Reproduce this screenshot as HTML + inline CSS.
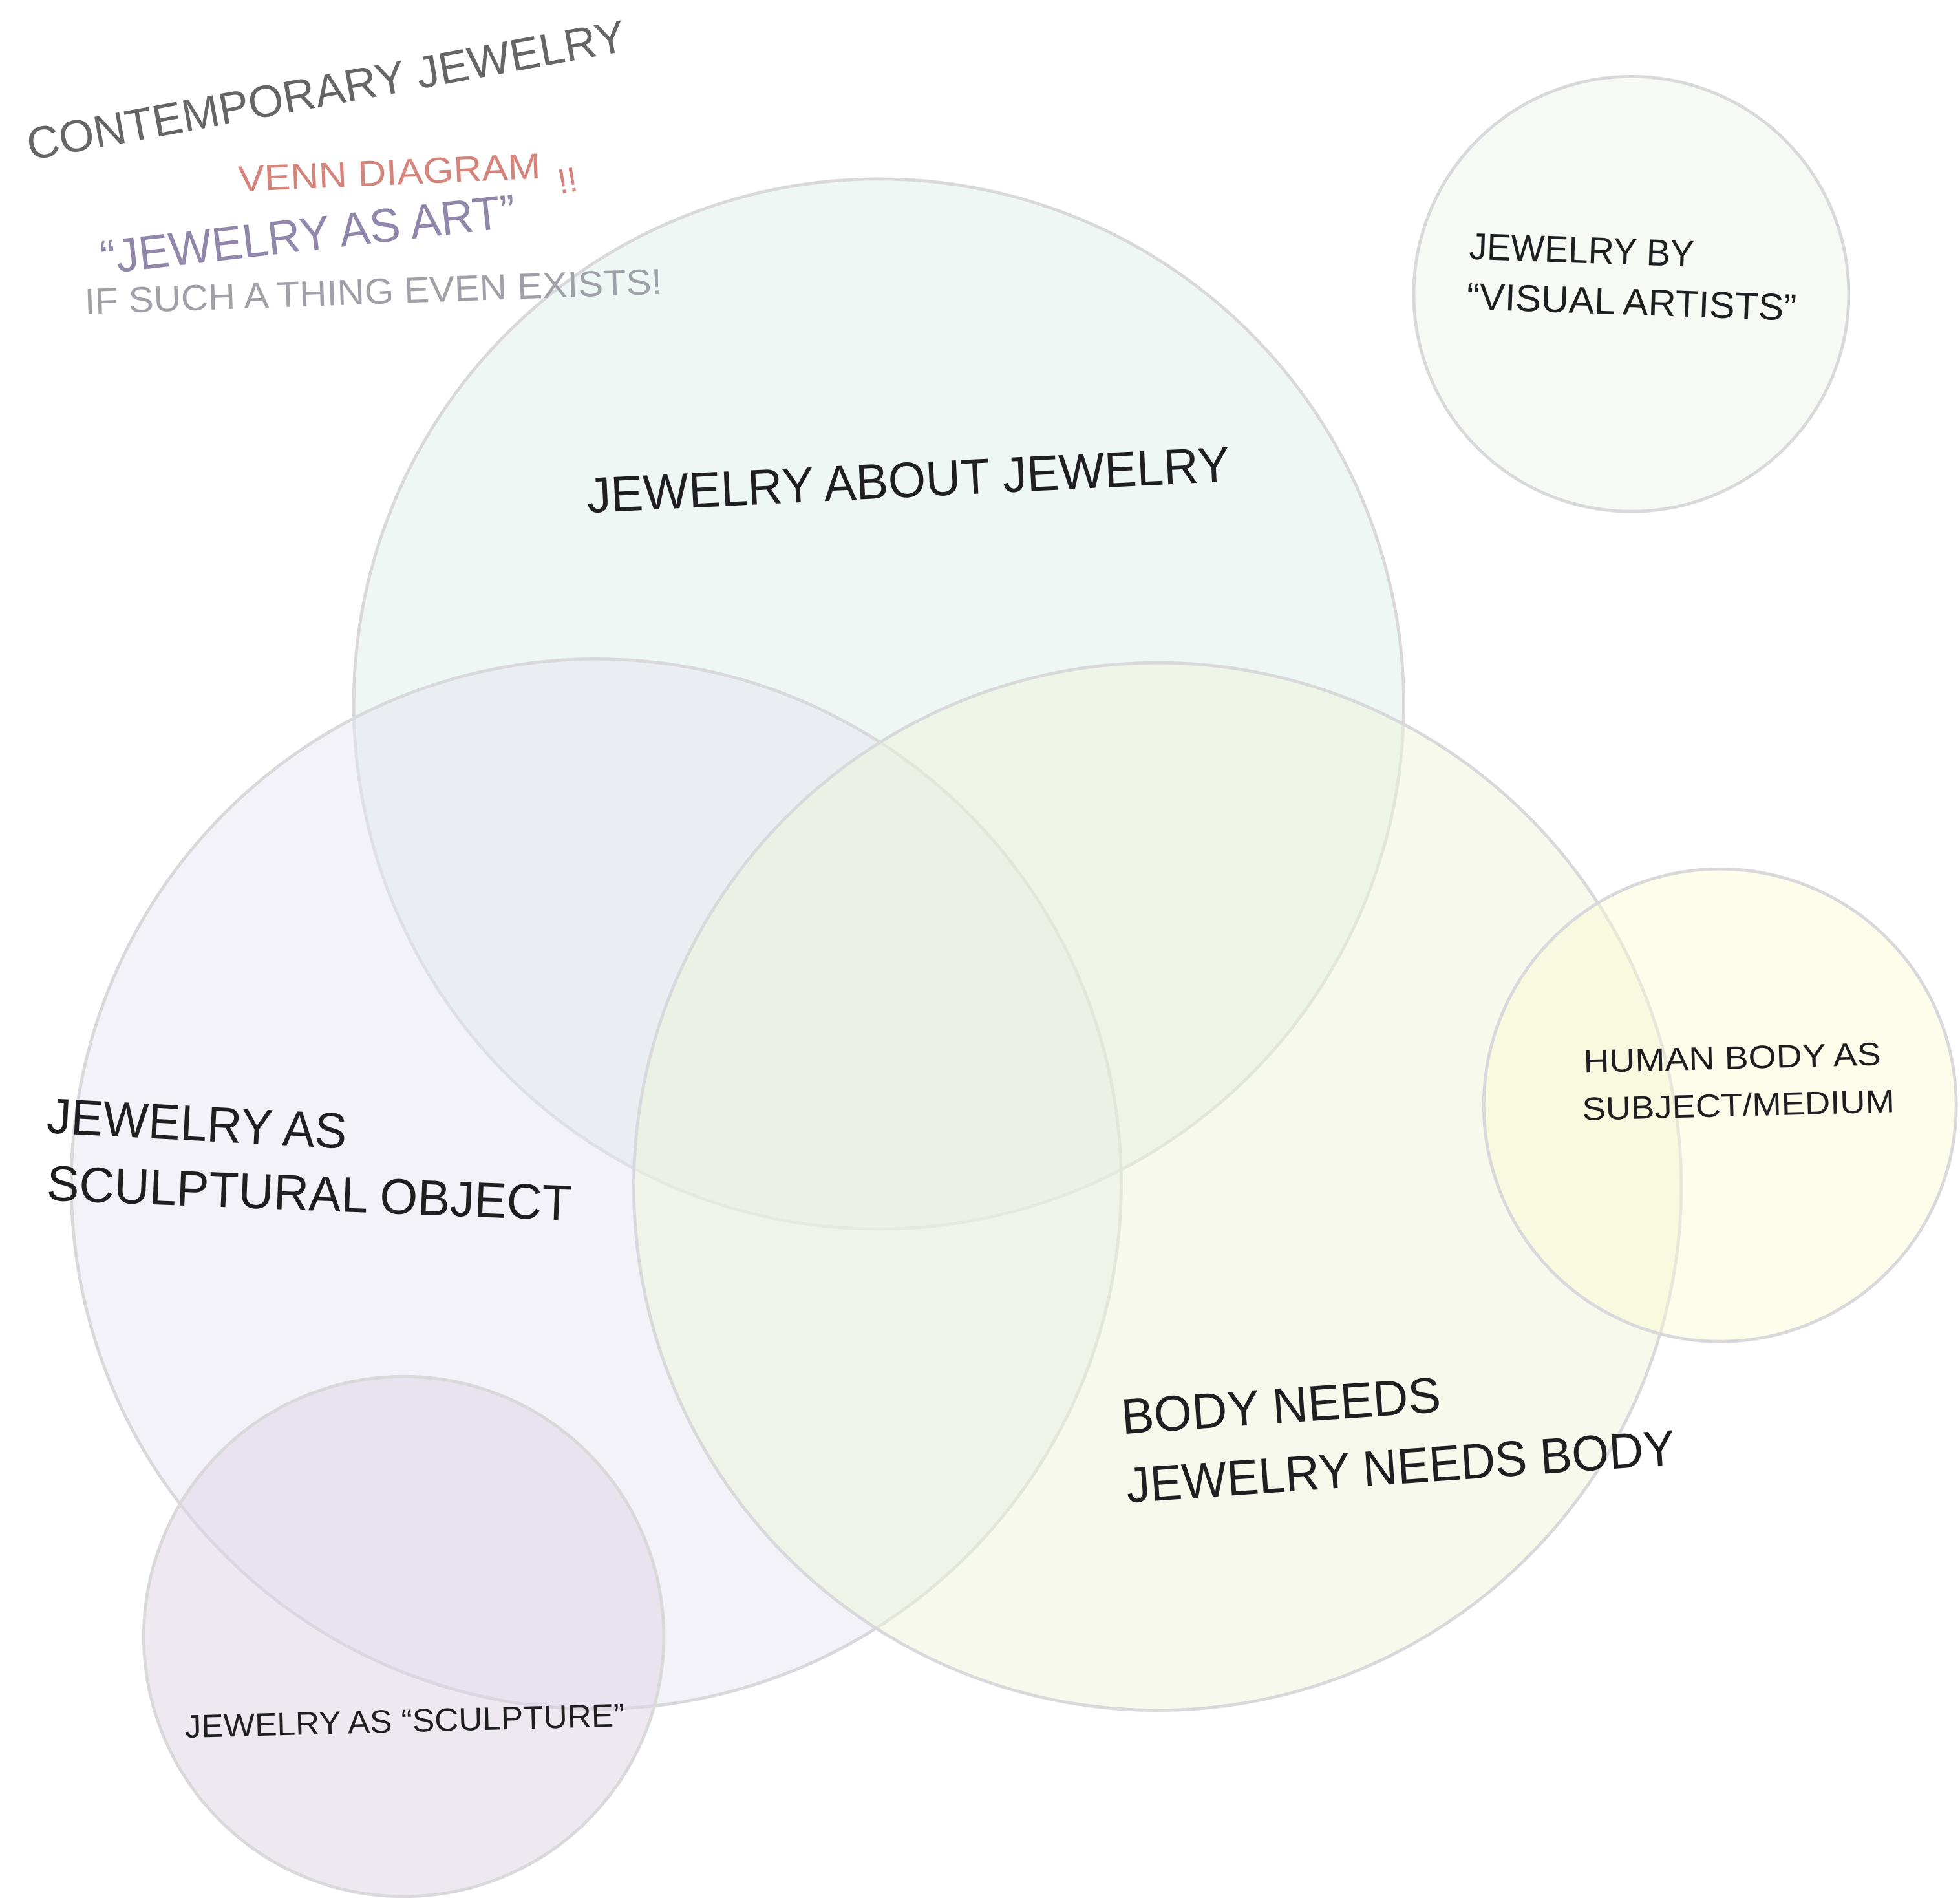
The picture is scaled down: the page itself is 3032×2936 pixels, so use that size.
<!DOCTYPE html>
<html><head><meta charset="utf-8"><style>html,body{margin:0;padding:0;background:#fff}svg{display:block}</style></head>
<body>
<svg width="3032" height="2936" viewBox="0 0 1568 1518" xmlns="http://www.w3.org/2000/svg" font-family="'Liberation Sans', sans-serif">
<rect width="1568" height="1518" fill="#fff"/>
<g stroke="#d9d9dc" stroke-width="2.5">
<circle cx="1305" cy="235" r="174" fill="#f7f9f5"/>
<circle cx="703" cy="563" r="420" fill="#e9f4f2" fill-opacity="0.75"/>
<circle cx="477" cy="947" r="420" fill="#e6e6f1" fill-opacity="0.5"/>
<circle cx="926" cy="949" r="419" fill="#eef4d8" fill-opacity="0.5"/>
<circle cx="1376" cy="884" r="189" fill="#fafad2" fill-opacity="0.45"/>
<circle cx="323" cy="1309" r="208" fill="#ddd3e3" fill-opacity="0.5"/>
</g>
<g fill="#1f1f22">
<text x="0" y="0" font-size="36" fill="#666" transform="translate(24,128) rotate(-10.4)" textLength="486" lengthAdjust="spacingAndGlyphs">CONTEMPORARY JEWELRY</text>
<text x="0" y="0" font-size="29" fill="#d4847b" transform="translate(191,153) rotate(-2.5)" textLength="242" lengthAdjust="spacingAndGlyphs">VENN DIAGRAM</text>
<text x="0" y="0" font-size="28" fill="#d4847b" transform="translate(448,155) rotate(-10)">!!</text>
<text x="0" y="0" font-size="38" fill="#9187ab" transform="translate(82,219) rotate(-6.5)" textLength="334" lengthAdjust="spacingAndGlyphs">“JEWELRY AS ART”</text>
<text x="0" y="0" font-size="29" fill="#a0a0a8" transform="translate(68,251) rotate(-2)" textLength="462" lengthAdjust="spacingAndGlyphs">IF SUCH A THING EVEN EXISTS!</text>
<text x="0" y="0" font-size="40" transform="translate(470,410) rotate(-2.8)" textLength="515" lengthAdjust="spacingAndGlyphs">JEWELRY ABOUT JEWELRY</text>
<text x="0" y="0" font-size="40" transform="translate(37,906) rotate(3)" textLength="240" lengthAdjust="spacingAndGlyphs">JEWELRY AS</text>
<text x="0" y="0" font-size="40" transform="translate(37,960) rotate(2.2)" textLength="420" lengthAdjust="spacingAndGlyphs">SCULPTURAL OBJECT</text>
<text x="0" y="0" font-size="40" transform="translate(898,1147) rotate(-4)" textLength="256" lengthAdjust="spacingAndGlyphs">BODY NEEDS</text>
<text x="0" y="0" font-size="40" transform="translate(902,1202) rotate(-4)" textLength="440" lengthAdjust="spacingAndGlyphs">JEWELRY NEEDS BODY</text>
<text x="0" y="0" font-size="30" transform="translate(1175,207) rotate(2)" textLength="180" lengthAdjust="spacingAndGlyphs">JEWELRY BY</text>
<text x="0" y="0" font-size="30" transform="translate(1173,247) rotate(2)" textLength="264" lengthAdjust="spacingAndGlyphs">“VISUAL ARTISTS”</text>
<text x="0" y="0" font-size="26" transform="translate(1267,858) rotate(-1.5)" textLength="238" lengthAdjust="spacingAndGlyphs">HUMAN BODY AS</text>
<text x="0" y="0" font-size="26" transform="translate(1266,896) rotate(-1.5)" textLength="250" lengthAdjust="spacingAndGlyphs">SUBJECT/MEDIUM</text>
<text x="0" y="0" font-size="26" transform="translate(148,1390) rotate(-1.5)" textLength="352" lengthAdjust="spacingAndGlyphs">JEWELRY AS “SCULPTURE”</text>
</g>
</svg>
</body></html>
